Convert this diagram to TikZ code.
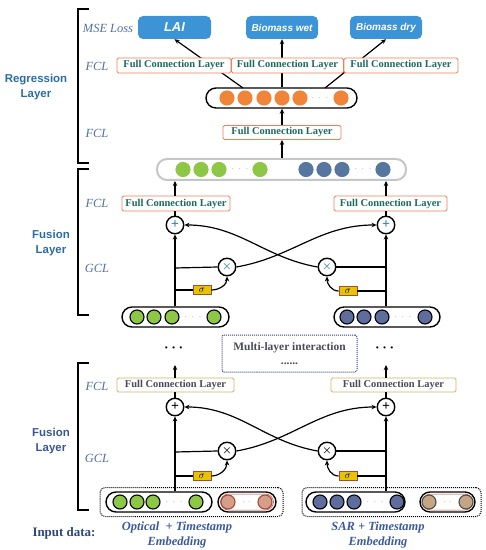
\documentclass[tikz,border=0pt]{standalone}
\usepackage{amsmath}
\usepackage{fontspec}
\setmainfont{Liberation Serif}
\setsansfont{Liberation Sans}
\usetikzlibrary{arrows.meta}

\definecolor{lossblue}{HTML}{3C94D6}
\definecolor{fclorange}{HTML}{F0805A}
\definecolor{fclteal}{HTML}{1E6B5C}
\definecolor{fcltan}{HTML}{CDB36A}
\definecolor{fclgrey}{HTML}{4A4A5C}
\definecolor{tagblue}{HTML}{52709E}
\definecolor{layerblue}{HTML}{2C6CA6}
\definecolor{layernavy}{HTML}{3A5593}
\definecolor{inputblue}{HTML}{2E4580}
\definecolor{embblue}{HTML}{3B5A9A}
\definecolor{gateyellow}{HTML}{E8C300}
\definecolor{gatered}{HTML}{A84A3A}
\definecolor{nodeorange}{HTML}{F08438}
\definecolor{nodegreen}{HTML}{8DC745}
\definecolor{nodeblue}{HTML}{56769F}
\definecolor{nodeslate}{HTML}{5D6D9C}
\definecolor{nodepink}{HTML}{D49E8A}
\definecolor{nodetan}{HTML}{C4A684}
\definecolor{plusblue}{HTML}{2A7BC0}
\definecolor{multinavy}{HTML}{2E3F78}

\begin{document}
\begin{tikzpicture}[x=1bp, y=1bp,
  every node/.style={align=center, inner sep=0pt},
  fcl/.style={draw=fclorange, line width=0.9bp, rounded corners=1.5bp, fill=white, text=fclteal, font=\bfseries\fontsize{10.5}{12}\selectfont, minimum height=15bp},
  fclbox/.style={fcl, draw=fcltan, text=fclgrey},
  outbox/.style={fill=lossblue, rounded corners=5bp, text=white, font=\sffamily\bfseries\itshape\fontsize{10}{12}\selectfont, minimum height=23bp, minimum width=72bp},
  tag/.style={text=tagblue, font=\itshape\fontsize{12.5}{14}\selectfont},
  layer/.style={text=layerblue, font=\sffamily\bfseries\fontsize{11.5}{14.5}\selectfont},
  seq/.style={draw, line width=1.4bp, rounded corners=10bp, fill=white, minimum height=20bp},
  inbox/.style={draw, densely dotted, line width=1bp, rounded corners=5bp, minimum height=29bp},
  neuron/.style={circle, draw, line width=1.1bp, minimum size=14bp},
  gap/.style={text=gray, font=\fontsize{9}{9}\selectfont},
  op/.style={circle, draw, line width=1.4bp, minimum size=17.5bp, fill=white, font=\bfseries\fontsize{14}{14}\selectfont},
  mul/.style={op, font=\fontsize{11}{11}\selectfont},
  gate/.style={draw=gatered, fill=gateyellow, line width=0.8bp, minimum width=18bp, minimum height=9bp, font=\itshape\fontsize{10}{10}\selectfont},
  arrow/.style={-{Stealth[length=5bp,width=4.5bp]}, line width=1.2bp},
  link/.style={line width=1.2bp},
  bracket/.style={line width=1.6bp}
]
\useasboundingbox (0,0) rectangle (486,-550);

% layer brackets and side labels
\draw[bracket] (89,-9) -- (78,-9) -- (78,-163) -- (89,-163);
\draw[bracket] (89,-169) -- (78,-169) -- (78,-315) -- (89,-315);
\draw[bracket] (89,-363) -- (78,-363) -- (78,-510) -- (89,-510);
\node[layer] (reglayer) at (36,-87) {Regression\\Layer};
\node[layer] (fuslayer2) at (51,-243) {Fusion\\Layer};
\node[layer, text=layernavy] (fuslayer1) at (51,-441) {Fusion\\Layer};

\node[tag] (tagmse) at (108,-28) {MSE Loss};
\node[tag] (tagfcl4) at (97,-66) {FCL};
\node[tag] (tagfcl3) at (97,-133) {FCL};
\node[tag] (tagfcl2) at (97,-203) {FCL};
\node[tag] (taggcl2) at (97,-268) {GCL};
\node[tag] (tagfcl1) at (97,-386) {FCL};
\node[tag] (taggcl1) at (97,-458) {GCL};

% outputs
\node[outbox, minimum width=73bp, font=\sffamily\bfseries\itshape\fontsize{13}{14}\selectfont] (lai) at (174.5,-27.5) {LAI};
\node[outbox] (biowet) at (282,-27.5) {Biomass wet};
\node[outbox] (biodry) at (386,-27.5) {Biomass dry};

% regression head
\node[seq, minimum width=151bp] (oseq) at (281.5,-98) {};
\foreach \x [count=\i] in {227,245,264,282,300,341}
  \node[neuron, fill=nodeorange, draw=nodeorange] (o\i) at (\x,-98) {};
\node[gap] (odots) at (320,-98) {$\cdot\;\cdot\;\cdot$};

\coordinate (oA) at (243,-88);
\coordinate (oC) at (325,-88);
\draw[arrow] (oA) -- (lai.south);
\draw[arrow] (oseq.north -| biowet) -- (biowet.south);
\draw[arrow] (oC) -- (biodry.south);

\node[fcl, minimum width=114bp] (fclA) at (174,-65.5) {Full Connection Layer};
\node[fcl, minimum width=112bp] (fclB) at (287.5,-65.5) {Full Connection Layer};
\node[fcl, minimum width=114bp] (fclC) at (401,-65.5) {Full Connection Layer};

\node[fcl, minimum width=118bp, minimum height=14bp] (fclmid) at (282,-132.5) {Full Connection Layer};
\draw[arrow] (fclmid.north) -- (fclmid.north |- oseq.south);

\node[seq, draw=gray!45, line width=2bp, minimum width=249bp, minimum height=21bp] (gseq) at (281.5,-169.5) {};
\foreach \x [count=\i] in {183,201,219,260}
  \node[neuron, fill=nodegreen, draw=nodegreen] (gg\i) at (\x,-169.5) {};
\foreach \x [count=\i] in {306,324,342,383}
  \node[neuron, fill=nodeblue, draw=nodeblue] (gb\i) at (\x,-169.5) {};
\node[gap] (ggdots) at (240,-169.5) {$\cdot\;\cdot\;\cdot$};
\node[gap] (gbdots) at (363,-169.5) {$\cdot\;\cdot\;\cdot$};
\draw[arrow] (gseq.north -| fclmid) -- (fclmid.south);

% upper fusion layer
\node[fcl, minimum width=108bp] (fclL2) at (176,-203.5) {Full Connection Layer};
\node[fcl, minimum width=113bp] (fclR2) at (390.5,-203.5) {Full Connection Layer};
\draw[arrow] (fclL2.north -| 175,0) -- (gseq.south -| 175,0);
\draw[arrow] (fclR2.north -| 386,0) -- (gseq.south -| 386,0);

\node[op, text=plusblue] (plusL2) at (175,-225) {+};
\node[op, text=plusblue] (plusR2) at (386,-225) {+};
\node[mul, text=plusblue] (timesL2) at (227,-267) {$\boldsymbol{\times}$};
\node[mul, text=plusblue] (timesR2) at (327,-267) {$\boldsymbol{\times}$};
\node[gate] (sigL2) at (202,-290) {$\sigma$};
\node[gate] (sigR2) at (348,-291) {$\sigma$};

\node[seq, minimum width=107bp] (seqL2) at (175.5,-317) {};
\foreach \x [count=\i] in {137,154,172,214}
  \node[neuron, fill=nodegreen] (gl\i) at (\x,-317) {};
\node[gap] (gldots) at (193,-317) {$\cdot\;\cdot\;\cdot$};
\node[seq, minimum width=106bp] (seqR2) at (387,-317) {};
\foreach \x [count=\i] in {347,364,382,425}
  \node[neuron, fill=nodeslate] (bl\i) at (\x,-317) {};
\node[gap] (bldots) at (403,-317) {$\cdot\;\cdot\;\cdot$};

\coordinate (jL2a) at (175,-268);
\coordinate (jL2b) at (175,-290);
\coordinate (jR2a) at (386,-267);
\coordinate (jR2b) at (386,-291);
\draw[arrow] (seqL2.north -| plusL2) -- (plusL2.south);
\draw[arrow] (seqR2.north -| plusR2) -- (plusR2.south);
\draw[link] (plusL2.north) -- (fclL2.south -| plusL2);
\draw[link] (plusR2.north) -- (fclR2.south -| plusR2);
\draw[link] (jL2a) -- (timesL2.west);
\draw[link] (jR2a) -- (timesR2.east);
\draw[link] (jL2b) -- (sigL2.west);
\draw[link] (jR2b) -- (sigR2.east);
\draw[arrow] (sigL2.east) to[out=0, in=-90] (timesL2.south);
\draw[arrow] (sigR2.west) to[out=180, in=-90] (timesR2.south);
\draw[arrow] (timesL2.east) to[out=10, in=180] (plusR2.west);
\draw[arrow] (timesR2.west) to[out=170, in=0] (plusL2.east);

% stacked layers in between
\node[font=\fontsize{14}{14}\selectfont] (dotsL) at (175,-348) {$\boldsymbol{\cdots}$};
\node[font=\fontsize{14}{14}\selectfont] (dotsR) at (386,-348) {$\boldsymbol{\cdots}$};
\node[draw=multinavy, densely dotted, line width=1bp, rounded corners=2bp, minimum width=135bp, minimum height=37bp, text=fclgrey, font=\bfseries\fontsize{11.5}{14}\selectfont] (multi) at (289.5,-353.5) {Multi-layer interaction\\......};

% lower fusion layer
\node[fclbox, minimum width=117bp, minimum height=14bp] (fclL1) at (175.5,-385) {Full Connection Layer};
\node[fclbox, minimum width=125bp, minimum height=14bp] (fclR1) at (393.5,-385) {Full Connection Layer};
\coordinate (upL) at (175,-365);
\coordinate (upR) at (386,-365);
\draw[arrow] (fclL1.north -| upL) -- (upL);
\draw[arrow] (fclR1.north -| upR) -- (upR);

\node[op] (plusL1) at (175,-407) {+};
\node[op] (plusR1) at (386,-407) {+};
\node[mul] (timesL1) at (227,-451) {$\boldsymbol{\times}$};
\node[mul] (timesR1) at (327,-451) {$\boldsymbol{\times}$};
\node[gate] (sigL1) at (202,-476) {$\sigma$};
\node[gate] (sigR1) at (348,-476) {$\sigma$};

% input embeddings
\node[inbox, minimum width=183bp] (inL) at (191.5,-502) {};
\node[inbox, minimum width=179bp] (inR) at (391.5,-502) {};
\node[seq, minimum width=106bp] (seqL1) at (159,-502) {};
\foreach \x [count=\i] in {120,137,153,196}
  \node[neuron, fill=nodegreen] (il\i) at (\x,-502) {};
\node[gap] (ildots) at (174,-502) {$\cdot\;\cdot\;\cdot$};
\node[seq, minimum width=58bp] (pinkL) at (247,-502) {};
\node[draw=gatered, line width=0.5bp, rounded corners=8bp, minimum width=53bp, minimum height=16bp] (pinkLin) at (247,-502) {};
\foreach \x [count=\i] in {228,265}
  \node[neuron, fill=nodepink, draw=gatered] (pl\i) at (\x,-502) {};
\node[gap] (pldots) at (246.5,-502) {$\cdot\;\cdot$};
\node[seq, minimum width=99bp] (seqR1) at (355.5,-502) {};
\foreach \x [count=\i] in {320,337,354,397}
  \node[neuron, fill=nodeslate] (ir\i) at (\x,-502) {};
\node[gap] (irdots) at (375,-502) {$\cdot\;\cdot\;\cdot$};
\node[seq, minimum width=55bp] (pinkR) at (447.5,-502) {};
\node[draw=gatered, line width=0.5bp, rounded corners=8bp, minimum width=50bp, minimum height=16bp] (pinkRin) at (447.5,-502) {};
\foreach \x [count=\i] in {429,466}
  \node[neuron, fill=nodetan, draw=black!70] (pr\i) at (\x,-502) {};
\node[gap] (prdots) at (447.5,-502) {$\cdot\;\cdot$};

\coordinate (jL1a) at (175,-452);
\coordinate (jL1b) at (175,-476);
\coordinate (jR1a) at (386,-451);
\coordinate (jR1b) at (386,-476);
\draw[arrow] (seqL1.north -| plusL1) -- (plusL1.south);
\draw[arrow] (seqR1.north -| plusR1) -- (plusR1.south);
\draw[link] (plusL1.north) -- (fclL1.south -| plusL1);
\draw[link] (plusR1.north) -- (fclR1.south -| plusR1);
\draw[link] (jL1a) -- (timesL1.west);
\draw[link] (jR1a) -- (timesR1.east);
\draw[link] (jL1b) -- (sigL1.west);
\draw[link] (jR1b) -- (sigR1.east);
\draw[arrow] (sigL1.east) to[out=0, in=-90] (timesL1.south);
\draw[arrow] (sigR1.west) to[out=180, in=-90] (timesR1.south);
\draw[arrow] (timesL1.east) to[out=10, in=180] (plusR1.west);
\draw[arrow] (timesR1.west) to[out=170, in=0] (plusL1.east);

% input captions
\node[text=inputblue, font=\bfseries\fontsize{13}{15}\selectfont] (inputlbl) at (64,-533) {Input data:};
\node[text=embblue, font=\bfseries\itshape\fontsize{12.5}{15}\selectfont] (optlbl) at (177,-535) {Optical\ \ + Timestamp\\Embedding};
\node[text=embblue, font=\bfseries\itshape\fontsize{12.5}{15}\selectfont] (sarlbl) at (378,-535) {SAR + Timestamp\\Embedding};

\end{tikzpicture}
\end{document}
